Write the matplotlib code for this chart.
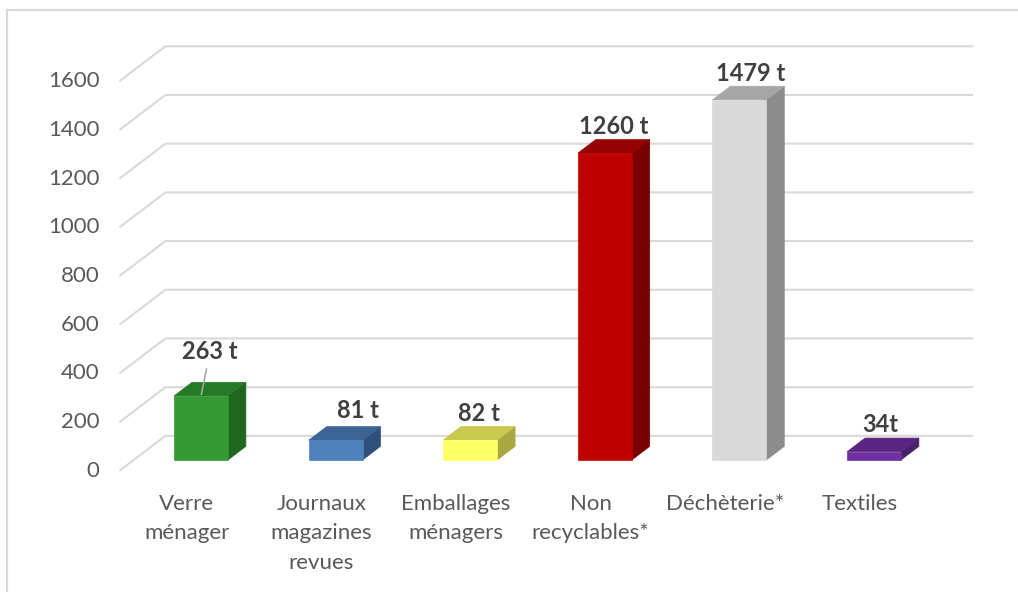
import matplotlib.pyplot as plt
from matplotlib.patches import Polygon
from matplotlib.lines import Line2D

plt.rcParams['font.family'] = ['Lato', 'DejaVu Sans']

categories = ["Verre\nménager", "Journaux\nmagazines\nrevues", "Emballages\nménagers",
              "Non\nrecyclables*", "Déchèterie*", "Textiles"]
tonnes = [263, 81, 82, 1260, 1479, 34]
value_labels = ["263 t", "81 t", "82 t", "1260 t", "1479 t", "34t"]
yticks = list(range(0, 1601, 200))

# front face, top face, side face
bar_colors = [
    ("#339933", "#267a26", "#1f661f"),
    ("#4f81bd", "#3c6494", "#2f507a"),
    ("#ffff66", "#c9c94f", "#a8a840"),
    ("#c00000", "#960000", "#780000"),
    ("#d9d9d9", "#a6a6a6", "#8c8c8c"),
    ("#7030a0", "#582580", "#4a1f6b"),
]
# pixel nudges of the value labels (Excel moved some of them by hand)
label_nudge = [(9, 44), (13, 23), (0, 20), (0, 20), (2, 20), (-3, 20)]
leader_line = [True, False, False, False, False, False]

# fake 3D: depth vector of the floor in data units
DX = 0.342
DV = 143.7
D0, D1 = 0.31, 0.70   # bar depth span
W = 0.4               # bar width

def proj(x, v, d):
    return (x + (d - D0) * DX, v + (d - D0) * DV)

fig = plt.figure(figsize=(10.18, 5.92), dpi=100)
ax = fig.add_axes([0, 0, 1, 1])
ax.set_xlim(-1.4933, 6.0698)
ax.set_ylim(-542.1, 1889.1)
ax.axis('off')

# chart frame
fig.add_artist(Line2D([7/1018, 7/1018], [0, 582/592], color='#d9d9d9', lw=1.6))
fig.add_artist(Line2D([7/1018, 1], [582/592, 582/592], color='#d9d9d9', lw=1.6))

grid_c = '#d9d9d9'
for v in yticks:
    p0 = proj(-0.5, v, 0)
    p1 = proj(-0.5, v, 1)
    p2 = proj(5.5, v, 1)
    ax.plot([p0[0], p1[0], p2[0]], [p0[1], p1[1], p2[1]], color=grid_c, lw=1.5, zorder=1,
            solid_capstyle='butt')
    ax.annotate(str(v), xy=p0, xytext=(-20, 0), textcoords='offset pixels',
                ha='right', va='center', fontsize=16, color='#595959')

for i, (v, (cf, ct, cs)) in enumerate(zip(tonnes, bar_colors)):
    l, r = i - W / 2, i + W / 2
    front = [proj(l, 0, D0), proj(r, 0, D0), proj(r, v, D0), proj(l, v, D0)]
    top = [proj(l, v, D0), proj(r, v, D0), proj(r, v, D1), proj(l, v, D1)]
    side = [proj(r, 0, D0), proj(r, 0, D1), proj(r, v, D1), proj(r, v, D0)]
    for pts, c in ((side, cs), (top, ct), (front, cf)):
        ax.add_patch(Polygon(pts, closed=True, facecolor=c, edgecolor=c, lw=0.5, zorder=3))

    anchor = proj(i, v, (D0 + D1) / 2)
    kw = {}
    if leader_line[i]:
        kw['arrowprops'] = dict(arrowstyle='-', color='#a6a6a6', lw=1.2,
                                shrinkA=2, shrinkB=1)
        anchor = proj(i, v, D0)
    ax.annotate(value_labels[i], xy=anchor, xytext=label_nudge[i],
                textcoords='offset pixels', ha='center', va='center',
                fontsize=17, fontweight='bold', color='#404040', zorder=5, **kw)

    ax.annotate(categories[i], xy=proj(i, 0, 0), xytext=(0, -23), textcoords='offset pixels',
                ha='center', va='top', fontsize=16, color='#595959', linespacing=1.6)

fig.savefig('out.png', dpi=100)
